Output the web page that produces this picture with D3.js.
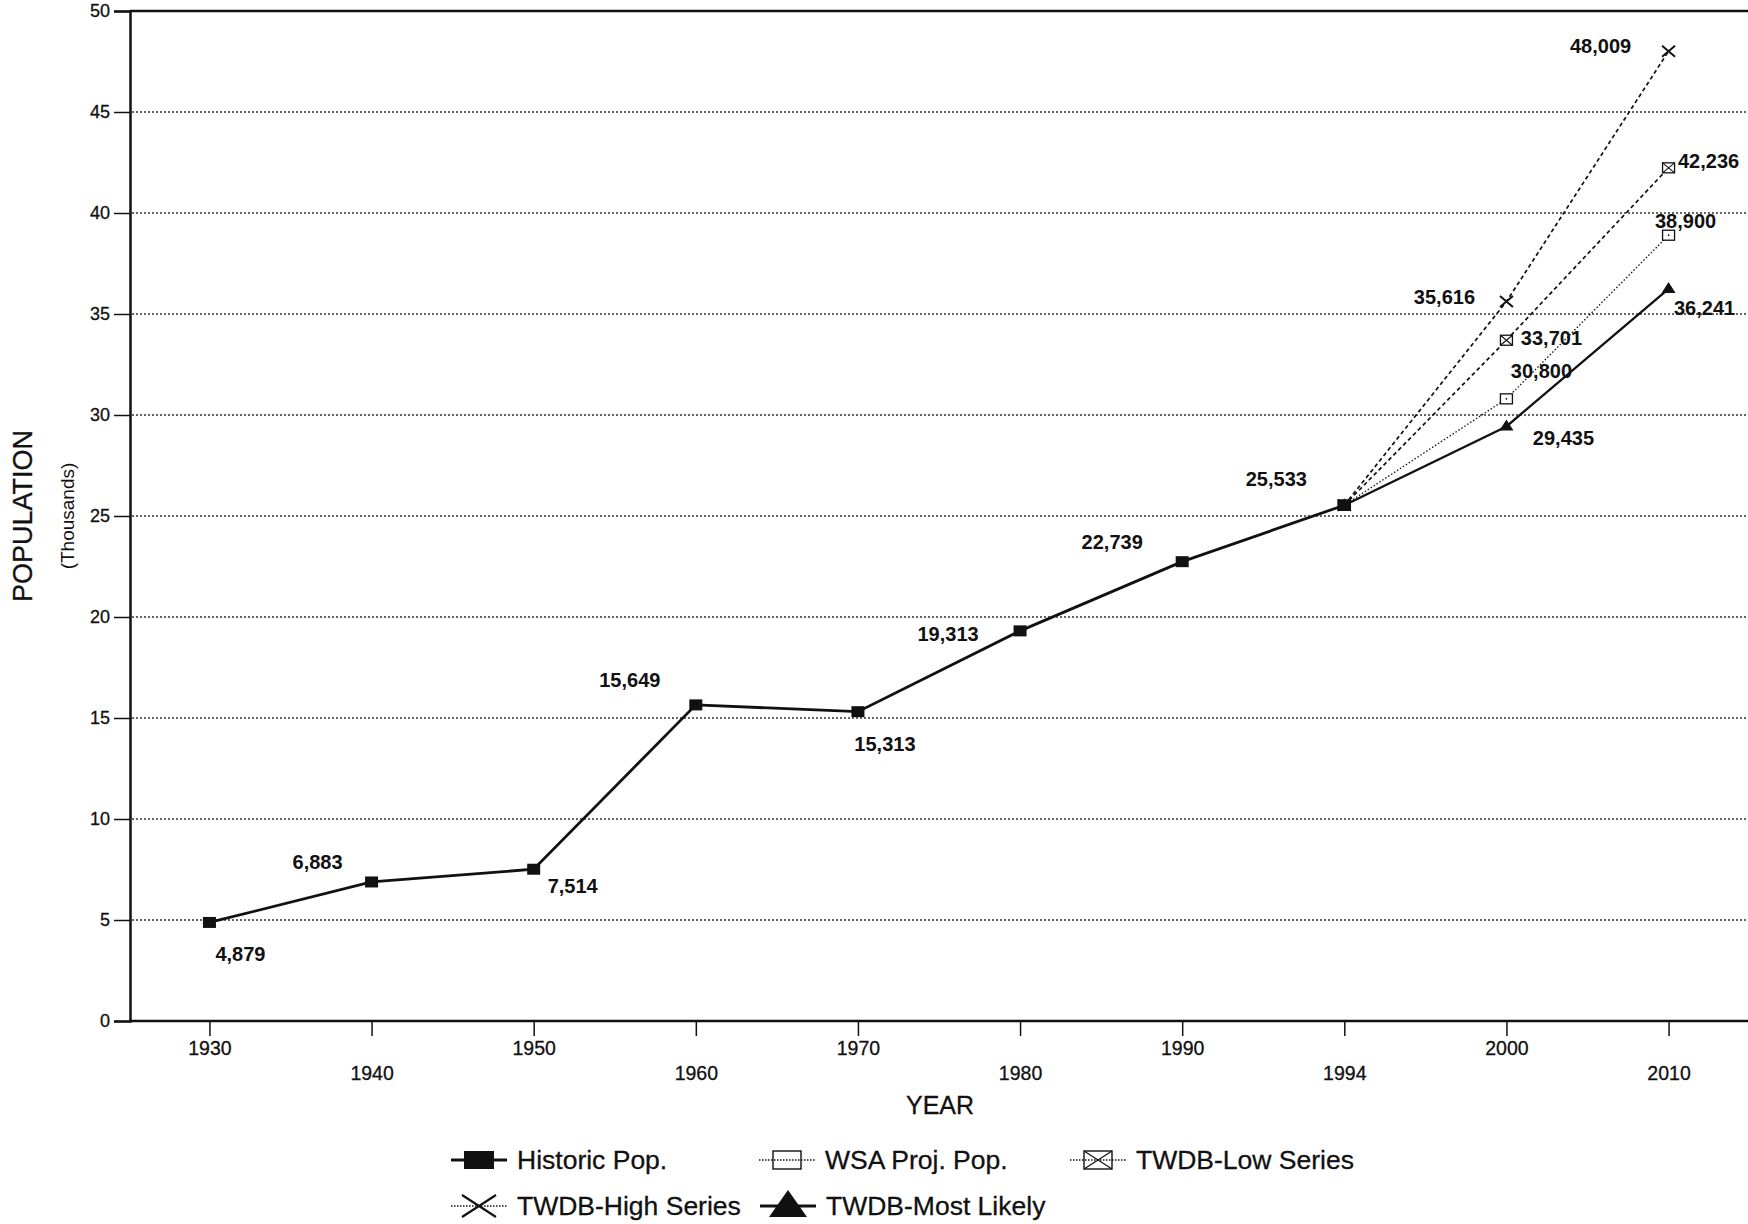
<!DOCTYPE html>
<html><head><meta charset="utf-8">
<script src="https://cdn.jsdelivr.net/npm/d3@7"></script>
<style>
body{margin:0;background:#fff;}
svg{display:block;}
text{font-family:"Liberation Sans",Arial,Helvetica,sans-serif;fill:#111;}
</style>
</head><body>
<svg id="chart" width="1748" height="1224"></svg>
<script>
// ---------------- DATA ----------------
const years = ["1930","1940","1950","1960","1970","1980","1990","1994","2000","2010"];
const historicYears = ["1930","1940","1950","1960","1970","1980","1990","1994"];
const historicPop = [4.879, 6.883, 7.514, 15.649, 15.313, 19.313, 22.739, 25.533];
const projYears = ["1994","2000","2010"];
const wsaProjPop = [25.533, 30.800, 38.900];
const twdbLowSeries = [25.533, 33.701, 42.236];
const twdbHighSeries = [25.533, 35.616, 48.009];
const twdbMostLikely = [25.533, 29.435, 36.241];
const yTicks = [0,5,10,15,20,25,30,35,40,45,50];
const legendNames = ["Historic Pop.","WSA Proj. Pop.","TWDB-Low Series","TWDB-High Series","TWDB-Most Likely"];

(function(){
// ---------------- LAYOUT ----------------
const svg = d3.select("#chart");
const pL = 130, pR = 1748, pT = 11, pB = 1021;
const x = d3.scalePoint().domain(years).range([pL, pR]).padding(0.49);
const y = d3.scaleLinear().domain([0, 50]).range([pB, pT]);
const ink = "#111";
const fmt = v => d3.format(",")(Math.round(v * 1000));

// gridlines
svg.append("g").selectAll("line").data(yTicks.filter(t => t > 0 && t < 50)).join("line")
  .attr("x1", pL + 2).attr("x2", pR)
  .attr("y1", d => y(d)).attr("y2", d => y(d))
  .attr("stroke", "#333").attr("stroke-width", 1.3).attr("stroke-dasharray", "2,2");
// top border
svg.append("line").attr("x1", pL).attr("x2", pR).attr("y1", y(50)).attr("y2", y(50))
  .attr("stroke", ink).attr("stroke-width", 2.5);

// y axis
const yAxis = d3.axisLeft(y).tickValues(yTicks).tickSize(16).tickPadding(4);
const gy = svg.append("g").attr("transform", `translate(${pL},0)`).call(yAxis);
gy.select(".domain").attr("stroke", ink).attr("stroke-width", 2.5);
gy.selectAll(".tick line").attr("stroke", ink).attr("stroke-width", 1.5);
gy.selectAll(".tick text").attr("font-size", 18).attr("fill", ink)
  .attr("stroke", ink).attr("stroke-width", 0.3)
  .attr("font-family", '"Liberation Sans",Arial,sans-serif');

// x axis
const xAxis = d3.axisBottom(x).tickSize(15).tickPadding(0);
const gx = svg.append("g").attr("transform", `translate(0,${pB})`).call(xAxis);
gx.select(".domain").attr("d", `M${pL},0H${pR}`).attr("stroke", ink).attr("stroke-width", 2.5);
gx.selectAll(".tick line").attr("stroke", ink).attr("stroke-width", 1.5);
gx.selectAll(".tick text").attr("font-size", 19.5).attr("fill", ink)
  .attr("stroke", ink).attr("stroke-width", 0.3)
  .attr("font-family", '"Liberation Sans",Arial,sans-serif')
  .attr("dy", null)
  .attr("y", (d, i) => i % 2 === 0 ? 34 : 59);

// axis titles
svg.append("text").attr("transform", `translate(32,516) rotate(-90)`)
  .attr("text-anchor", "middle").attr("font-size", 27).attr("stroke", ink).attr("stroke-width", 0.3).text("POPULATION");
svg.append("text").attr("transform", `translate(74,516) rotate(-90)`)
  .attr("text-anchor", "middle").attr("font-size", 19).text("(Thousands)");
svg.append("text").attr("x", 940).attr("y", 1114)
  .attr("text-anchor", "middle").attr("font-size", 25).attr("stroke", ink).attr("stroke-width", 0.3).text("YEAR");

// ---------------- SERIES ----------------
const series = [
  {name: legendNames[1], yrs: projYears, vals: wsaProjPop, dash: "1.5,2", width: 1.3, marker: "openSquare"},
  {name: legendNames[2], yrs: projYears, vals: twdbLowSeries, dash: "4,3", width: 1.7, marker: "xSquare"},
  {name: legendNames[3], yrs: projYears, vals: twdbHighSeries, dash: "4,3", width: 1.7, marker: "cross"},
  {name: legendNames[4], yrs: projYears, vals: twdbMostLikely, dash: null, width: 2.3, marker: "triangle"},
  {name: legendNames[0], yrs: historicYears, vals: historicPop, dash: null, width: 2.8, marker: "square"}
];

const line = d3.line().x(d => x(d[0])).y(d => y(d[1]));

function drawMarker(g, type, cx, cy) {
  if (type === "square") {
    g.append("rect").attr("x", cx - 6.5).attr("y", cy - 5.5).attr("width", 13).attr("height", 11).attr("fill", ink);
  } else if (type === "openSquare") {
    g.append("rect").attr("x", cx - 6).attr("y", cy - 5).attr("width", 12).attr("height", 10)
      .attr("fill", "#fff").attr("stroke", ink).attr("stroke-width", 1.3);
    g.append("circle").attr("cx", cx).attr("cy", cy).attr("r", 0.9).attr("fill", ink);
  } else if (type === "xSquare") {
    g.append("rect").attr("x", cx - 6).attr("y", cy - 5).attr("width", 12).attr("height", 10)
      .attr("fill", "#fff").attr("stroke", ink).attr("stroke-width", 1.3);
    g.append("path").attr("d", `M${cx-6},${cy-5}L${cx+6},${cy+5}M${cx+6},${cy-5}L${cx-6},${cy+5}`)
      .attr("stroke", ink).attr("stroke-width", 1.1);
  } else if (type === "cross") {
    g.append("path").attr("d", `M${cx-6.5},${cy-5.5}L${cx+6.5},${cy+5.5}M${cx+6.5},${cy-5.5}L${cx-6.5},${cy+5.5}`)
      .attr("stroke", ink).attr("stroke-width", 2);
  } else if (type === "triangle") {
    g.append("path").attr("d", `M${cx},${cy-7}L${cx+7},${cy+4}L${cx-7},${cy+4}Z`).attr("fill", ink);
  }
}

const gLines = svg.append("g");
series.forEach(s => {
  const pts = s.yrs.map((yr, i) => [yr, s.vals[i]]);
  gLines.append("path").datum(pts).attr("d", line)
    .attr("fill", "none").attr("stroke", ink).attr("stroke-width", s.width)
    .attr("stroke-dasharray", s.dash);
});
series.forEach(s => {
  s.yrs.forEach((yr, i) => drawMarker(gLines, s.marker, x(yr), y(s.vals[i])));
});

// ---------------- VALUE LABELS ----------------
const labelOffsets = {
  "Historic Pop.": [[31,32],[-54,-20],[39,17],[-66,-25],[27,32],[-72,3],[-70,-20],[-68,-26]],
  "WSA Proj. Pop.": [null,[35,-28],[17,-14]],
  "TWDB-Low Series": [null,[45,-2],[40,-7]],
  "TWDB-High Series": [null,[-62,-5],[-68,-5]],
  "TWDB-Most Likely": [null,[57,12],[36,19]]
};
const gLab = svg.append("g");
series.forEach(s => {
  s.yrs.forEach((yr, i) => {
    const off = labelOffsets[s.name][i];
    if (!off) return;
    gLab.append("text")
      .attr("x", x(yr) + off[0]).attr("y", y(s.vals[i]) + off[1] + 7)
      .attr("text-anchor", "middle").attr("font-size", 20).attr("font-weight", "bold")
      .text(fmt(s.vals[i]));
  });
});

// ---------------- LEGEND ----------------
const legendItems = [
  {name: legendNames[0], lx: 451, ly: 1160, marker: "square", dash: null, width: 2.8},
  {name: legendNames[1], lx: 759, ly: 1160, marker: "openSquare", dash: "1.5,1.5", width: 1.3},
  {name: legendNames[2], lx: 1070, ly: 1160, marker: "xSquare", dash: "1.5,1.5", width: 1.3},
  {name: legendNames[3], lx: 451, ly: 1206, marker: "cross", dash: "1.5,1.5", width: 1.3},
  {name: legendNames[4], lx: 760, ly: 1206, marker: "triangle", dash: null, width: 2.8}
];
const gLeg = svg.append("g");
legendItems.forEach(it => {
  gLeg.append("line").attr("x1", it.lx).attr("x2", it.lx + 56).attr("y1", it.ly).attr("y2", it.ly)
    .attr("stroke", ink).attr("stroke-width", it.width).attr("stroke-dasharray", it.dash);
  const cx = it.lx + 28;
  if (it.marker === "square") {
    gLeg.append("rect").attr("x", cx - 15).attr("y", it.ly - 9).attr("width", 30).attr("height", 18).attr("fill", ink);
  } else if (it.marker === "openSquare" || it.marker === "xSquare") {
    gLeg.append("rect").attr("x", cx - 14).attr("y", it.ly - 9).attr("width", 28).attr("height", 18)
      .attr("fill", "none").attr("stroke", ink).attr("stroke-width", 1.4);
    if (it.marker === "xSquare")
      gLeg.append("path").attr("d", `M${cx-14},${it.ly-9}L${cx+14},${it.ly+9}M${cx+14},${it.ly-9}L${cx-14},${it.ly+9}`)
        .attr("stroke", ink).attr("stroke-width", 1.2);
  } else if (it.marker === "cross") {
    gLeg.append("path").attr("d", `M${cx-17},${it.ly-11}L${cx+17},${it.ly+11}M${cx+17},${it.ly-11}L${cx-17},${it.ly+11}`)
      .attr("stroke", ink).attr("stroke-width", 2.2);
  } else if (it.marker === "triangle") {
    gLeg.append("path").attr("d", `M${cx},${it.ly-16}L${cx+19},${it.ly+11}L${cx-19},${it.ly+11}Z`).attr("fill", ink);
  }
  gLeg.append("text").attr("x", it.lx + 66).attr("y", it.ly + 9)
    .attr("font-size", 26.5).attr("stroke", ink).attr("stroke-width", 0.3).text(it.name);
});
})();
</script>
</body></html>
